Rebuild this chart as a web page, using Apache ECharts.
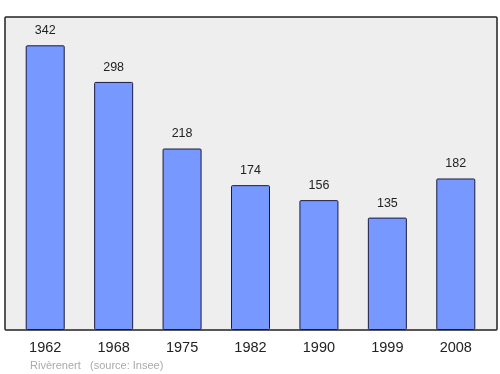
<!DOCTYPE html>
<html><head><meta charset="utf-8">
<script src="https://cdn.jsdelivr.net/npm/echarts@6/dist/echarts.min.js"></script>
<style>html,body{margin:0;padding:0;background:#fff}#c{width:500px;height:374px}</style>
</head><body><div id="c"></div>
<script>
const years = ['1962','1968','1975','1982','1990','1999','2008'];
const population = [342, 298, 218, 174, 156, 135, 182];
const footerPlace = 'Rivèrenert';
const footerSource = '(source: Insee)';

const chart = echarts.init(document.getElementById('c'), null, {renderer:'canvas'});
chart.setOption({
  animation:false,
  backgroundColor:'#ffffff',
  grid:{left:11, right:10, top:17, bottom:44},
  graphic:[
    {type:'rect', z:-10, shape:{x:5, y:17, width:492, height:313, r:1},
     style:{fill:'#eeeeee', stroke:'#222222', lineWidth:1.5}},
    {type:'text', left:30, top:360, style:{text:footerPlace, fill:'#aaaaaa', font:'11px "Liberation Sans", Arial, sans-serif'}},
    {type:'text', left:90, top:360, style:{text:footerSource, fill:'#aaaaaa', font:'11px "Liberation Sans", Arial, sans-serif'}}
  ],
  xAxis:{type:'category', data:years,
    axisLine:{show:false}, axisTick:{show:false},
    axisLabel:{color:'#222', fontSize:14.5, margin:10, fontFamily:'"Liberation Sans", Arial, sans-serif'}},
  yAxis:{type:'value', min:0, max:376, show:false, splitLine:{show:false}},
  series:[{type:'bar', data:population, barWidth:39,
    itemStyle:{color:'#7799ff', borderColor:'#1a1a40', borderWidth:1, borderRadius:1},
    label:{show:true, position:'top', distance:8, color:'#222', fontSize:12.5, fontFamily:'"Liberation Sans", Arial, sans-serif'}
  }]
});
</script></body></html>
